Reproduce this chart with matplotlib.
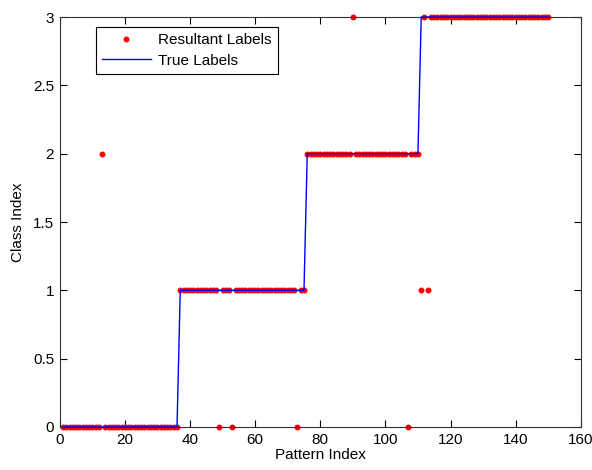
import numpy as np
import matplotlib
matplotlib.use("Agg")
import matplotlib.pyplot as plt

plt.rcParams['font.family'] = ['Liberation Sans', 'DejaVu Sans']

# class boundaries of the ground truth (pattern index ranges, inclusive)
class_ranges = [(1, 36), (37, 75), (76, 110), (111, 150)]

# misclassified patterns: index -> predicted class
wrong_preds = {13: 2, 49: 0, 53: 0, 73: 0, 90: 3, 107: 0, 111: 1, 113: 1}

pattern_idx = np.arange(1, 151)
true_labels = np.zeros(len(pattern_idx))
for cls, (lo, hi) in enumerate(class_ranges):
    true_labels[(pattern_idx >= lo) & (pattern_idx <= hi)] = cls

result_labels = true_labels.copy()
for idx, cls in wrong_preds.items():
    result_labels[idx - 1] = cls

fig = plt.figure(figsize=(5.92, 4.70), dpi=100)
ax = fig.add_axes([0.101, 0.0915, 0.880, 0.8723])

ax.plot(pattern_idx, result_labels, '.', color='red', markersize=6.5,
        label='Resultant Labels', clip_on=False, zorder=2)
ax.plot(pattern_idx, true_labels, '-', color='blue', linewidth=1.0,
        label='True Labels', clip_on=False, zorder=3)

ax.set_xlim(0, 160)
ax.set_ylim(0, 3)
ax.set_xticks(np.arange(0, 161, 20))
ax.set_yticks(np.arange(0, 3.01, 0.5))
ax.set_yticklabels(['0', '0.5', '1', '1.5', '2', '2.5', '3'])
ax.tick_params(direction='in', length=5, width=0.8, labelsize=11,
               top=True, right=True, pad=4)
for s in ax.spines.values():
    s.set_linewidth(0.8)
    s.set_color('#333333')

ax.set_xlabel('Pattern Index', fontsize=11, labelpad=1)
ax.set_ylabel('Class Index', fontsize=11, labelpad=6)

leg = ax.legend(loc='upper left', bbox_to_anchor=(0.069, 0.976),
                borderaxespad=0, fancybox=False, framealpha=1,
                edgecolor='black', fontsize=11, borderpad=0.4,
                labelspacing=0.45, handlelength=3.2, handletextpad=0.5)
leg.get_frame().set_linewidth(0.8)

fig.savefig('out.png', dpi=100)
